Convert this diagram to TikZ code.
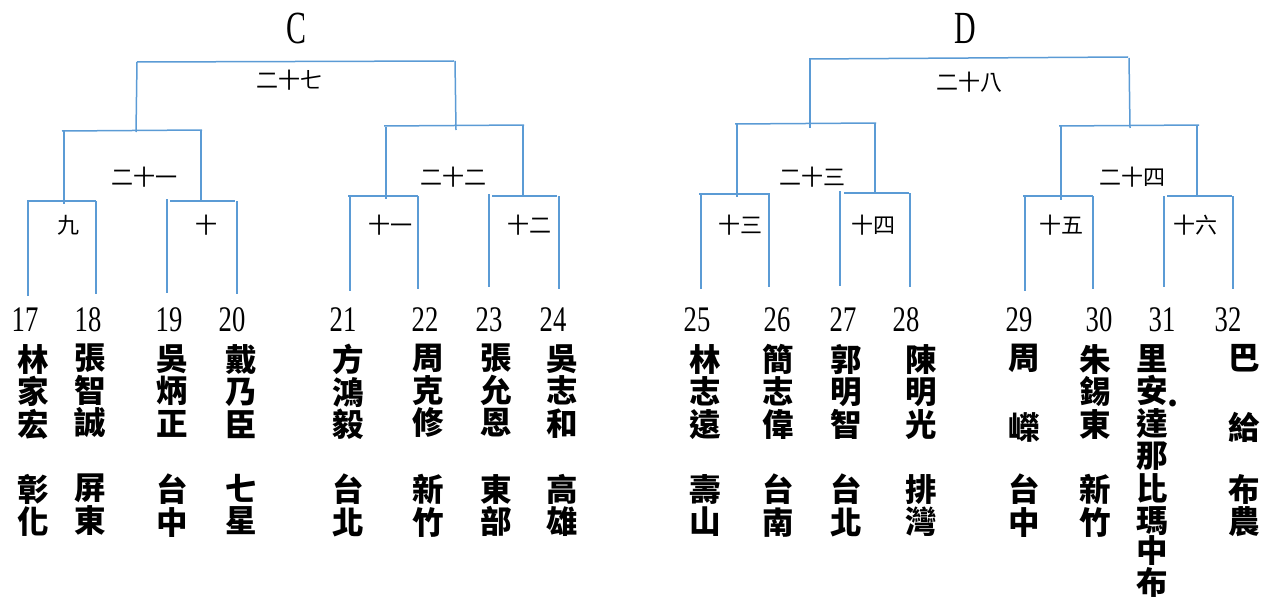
\documentclass[tikz,border=0pt]{standalone}
\usepackage{fontspec}
\newfontfamily\cjkfont{Noto Sans CJK TC}
\newfontfamily\numfont[FakeStretch=0.74]{Liberation Serif}
\newfontfamily\poolfont[FakeStretch=0.65]{Liberation Serif}
\definecolor{bracketblue}{RGB}{91,155,213}

\tikzstyle{bracket} = [draw=bracketblue, line width=1.5pt]
\tikzstyle{round} = [inner sep=0pt, font=\cjkfont\fontsize{22}{24}\selectfont]
\tikzstyle{seed} = [inner sep=0pt, font=\numfont\fontsize{36}{38}\selectfont]
\tikzstyle{player} = [anchor=north, inner sep=0pt, align=center, font=\cjkfont\bfseries\fontsize{31.5}{32.5}\selectfont]
\tikzstyle{pool} = [inner sep=0pt, font=\poolfont\fontsize{46}{48}\selectfont]

\begin{document}
\begin{tikzpicture}[x=1pt,y=-1pt]
      \useasboundingbox (0,0) rectangle (1273,599);

      % group C
      \node[pool] (poolC) at (296,28) {C};
      \draw[bracket] (137,62) -- (454,61);
      \draw[bracket] (137,62) -- (136,132);
      \draw[bracket] (455,61) -- (456,130);
      \draw[bracket] (62,131) -- (202,130);
      \draw[bracket] (64,131) -- (64,204);
      \draw[bracket] (201,130) -- (201,200);
      \draw[bracket] (384,126) -- (524,125);
      \draw[bracket] (386,127) -- (386,199);
      \draw[bracket] (523,125) -- (523,195);
      \draw[bracket] (27,201) -- (96,201);
      \draw[bracket] (28,201) -- (28,296);
      \draw[bracket] (96,201) -- (96,294);
      \draw[bracket] (170,201) -- (235,201);
      \draw[bracket] (167,199) -- (167,293);
      \draw[bracket] (237,201) -- (237,294);
      \draw[bracket] (348,196) -- (418,196);
      \draw[bracket] (350,196) -- (350,291);
      \draw[bracket] (418,196) -- (418,289);
      \draw[bracket] (492,196) -- (557,196);
      \draw[bracket] (489,194) -- (489,287);
      \draw[bracket] (559,196) -- (559,289);

      \node[round] (r27) at (289,80) {二十七};
      \node[round] (r21) at (144,177) {二十一};
      \node[round] (r22) at (453,177) {二十二};
      \node[round] (r9) at (68,225) {九};
      \node[round] (r10) at (206,225) {十};
      \node[round] (r11) at (390,225) {十一};
      \node[round] (r12) at (529,225) {十二};

      % group D
      \node[pool] (poolD) at (965,28) {D};
      \draw[bracket] (809,59) -- (1128,57);
      \draw[bracket] (810,59) -- (810,128);
      \draw[bracket] (1129,58) -- (1130,128);
      \draw[bracket] (735,124) -- (876,123);
      \draw[bracket] (737,124) -- (737,197);
      \draw[bracket] (875,123) -- (875,193);
      \draw[bracket] (1059,126) -- (1199,125);
      \draw[bracket] (1061,126) -- (1061,200);
      \draw[bracket] (1197,125) -- (1197,195);
      \draw[bracket] (699,194) -- (770,194);
      \draw[bracket] (701,194) -- (701,289);
      \draw[bracket] (769,194) -- (769,287);
      \draw[bracket] (844,193) -- (909,193);
      \draw[bracket] (840,191) -- (840,286);
      \draw[bracket] (910,193) -- (910,287);
      \draw[bracket] (1023,196) -- (1093,196);
      \draw[bracket] (1025,196) -- (1025,291);
      \draw[bracket] (1093,196) -- (1093,289);
      \draw[bracket] (1167,196) -- (1232,196);
      \draw[bracket] (1164,196) -- (1164,287);
      \draw[bracket] (1233,196) -- (1233,289);

      \node[round] (r28) at (969,82) {二十八};
      \node[round] (r23) at (812,177) {二十三};
      \node[round] (r24) at (1132,177) {二十四};
      \node[round] (r13) at (740,225) {十三};
      \node[round] (r14) at (873,225) {十四};
      \node[round] (r15) at (1061,225) {十五};
      \node[round] (r16) at (1195,225) {十六};

      % seeds
      \node[seed] (s17) at (25,320) {17};
      \node[seed] (s18) at (88,320) {18};
      \node[seed] (s19) at (169,320) {19};
      \node[seed] (s20) at (232,320) {20};
      \node[seed] (s21) at (343,320) {21};
      \node[seed] (s22) at (425,320) {22};
      \node[seed] (s23) at (489,320) {23};
      \node[seed] (s24) at (553,320) {24};
      \node[seed] (s25) at (697,320) {25};
      \node[seed] (s26) at (777,320) {26};
      \node[seed] (s27) at (843,320) {27};
      \node[seed] (s28) at (906,320) {28};
      \node[seed] (s29) at (1019,320) {29};
      \node[seed] (s30) at (1099,320) {30};
      \node[seed] (s31) at (1162,320) {31};
      \node[seed] (s32) at (1228,320) {32};

      % players
      \node[player] (p17) at (33,344) {林\\家\\宏};
      \node[player] (p18) at (90,344) {張\\智\\誠};
      \node[player] (p19) at (172,344) {吳\\炳\\正};
      \node[player] (p20) at (241,344) {戴\\乃\\臣};
      \node[player] (p21) at (348,344) {方\\鴻\\毅};
      \node[player] (p22) at (428,344) {周\\克\\修};
      \node[player] (p23) at (496,344) {張\\允\\恩};
      \node[player] (p24) at (562,344) {吳\\志\\和};
      \node[player] (p25) at (705,344) {林\\志\\遠};
      \node[player] (p26) at (778,344) {簡\\志\\偉};
      \node[player] (p27) at (846,344) {郭\\明\\智};
      \node[player] (p28) at (921,344) {陳\\明\\光};
      \node[player] (p29) at (1024,344) {周\\\strut\\嶸};
      \node[player] (p30) at (1095,344) {朱\\錫\\東};
      \node[player] (p31) at (1152,344) {里\\安\\達\\那\\比\\瑪};
      \node[player, anchor=center] (dot31) at (1173,403) {.};
      \node[player] (p32) at (1244,344) {巴\\\strut\\給};

      % towns
      \node[player] (t17) at (33,474) {彰\\化};
      \node[player] (t18) at (90,474) {屏\\東};
      \node[player] (t19) at (172,474) {台\\中};
      \node[player] (t20) at (241,474) {七\\星};
      \node[player] (t21) at (348,474) {台\\北};
      \node[player] (t22) at (428,474) {新\\竹};
      \node[player] (t23) at (496,474) {東\\部};
      \node[player] (t24) at (562,474) {高\\雄};
      \node[player] (t25) at (705,474) {壽\\山};
      \node[player] (t26) at (778,474) {台\\南};
      \node[player] (t27) at (846,474) {台\\北};
      \node[player] (t28) at (921,474) {排\\灣};
      \node[player] (t29) at (1024,474) {台\\中};
      \node[player] (t30) at (1095,474) {新\\竹};
      \node[player] (t31) at (1152,535) {中\\布};
      \node[player] (t32) at (1244,474) {布\\農};
\end{tikzpicture}
\end{document}
